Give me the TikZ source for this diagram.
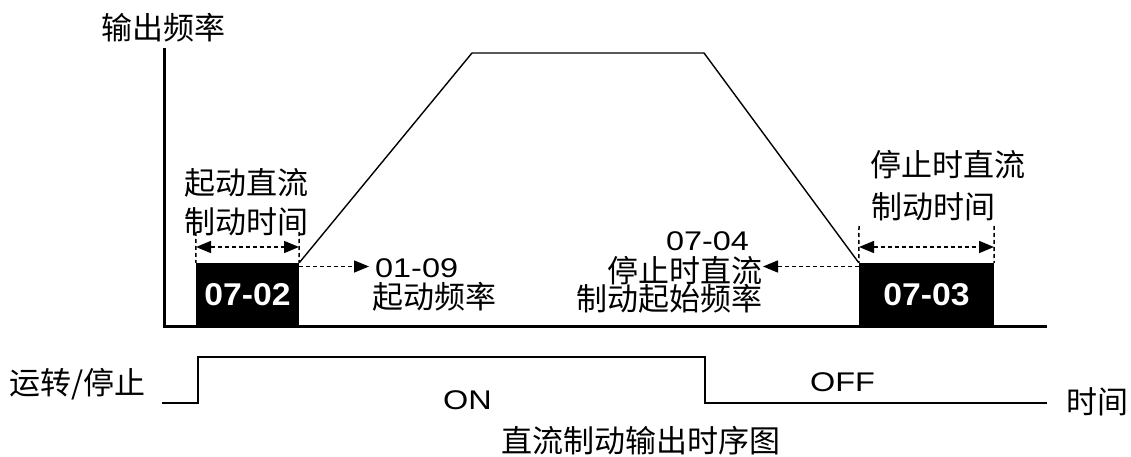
\documentclass[tikz,border=0pt]{standalone}
\usepackage{fontspec}
\setmainfont{Liberation Sans}
\newfontfamily\latfnt{Liberation Sans}[FakeStretch=1.2]
\newfontfamily\boxfnt{Liberation Sans Bold}[FakeStretch=1.07]
\newfontfamily\cjk{Noto Sans CJK SC}
\usetikzlibrary{arrows.meta}
\begin{document}
\begin{tikzpicture}[x=1pt,y=-1pt,
  cjklabel/.style={inner sep=0pt, text height=25pt, text depth=2.5pt, font=\cjk\fontsize{31}{33}\selectfont},
  latlabel/.style={inner sep=0pt, font=\latfnt\fontsize{27}{29}\selectfont},
  blackbox/.style={fill=black, draw=none, inner sep=0pt, text=white,
    font=\boxfnt\fontsize{31.5}{33}\selectfont},
  axisline/.style={line width=3pt, line cap=rect},
  curve/.style={line width=1.4pt, line join=miter},
  signal/.style={line width=1.8pt},
  dimline/.style={line width=1.5pt, dash pattern=on 4pt off 3pt},
  tri/.style={-{Triangle[length=15pt,width=12pt]}},
  tritwo/.style={{Triangle[length=15pt,width=12pt]}-{Triangle[length=15pt,width=12pt]}}
]
\useasboundingbox (0,0) rectangle (1131,457);

% axes
\coordinate (ytop) at (164,50);
\coordinate (origin) at (164,326);
\coordinate (xend) at (1045,326);
\draw[axisline] (ytop) -- (origin) -- (xend);
\node[cjklabel] (ylab) at (163.5,28) {输出频率};

% black boxes
\node[blackbox, minimum width=103pt, minimum height=63pt] (b1) at (247.5,294.5) {07-02};
\node[blackbox, minimum width=135pt, minimum height=63pt] (b2) at (926.5,294.5) {07-03};

% frequency curve
\coordinate (c1) at (472,53);
\coordinate (c2) at (704,53);
\draw[curve] (b1.north east) -- (c1) -- (c2) -- (b2.north west);

% start frequency arrow
\node[latlabel, anchor=west] (f0109) at (375,268) {01-09};
\node[cjklabel, anchor=west] (fstart) at (372,297) {起动频率};
\coordinate (a1s) at (299,266.5);
\coordinate (a1e) at (369,266.5);
\draw[dimline, tri] (a1s) -- (a1e);

% stop frequency arrow
\node[latlabel] (f0704) at (707.5,241.5) {07-04};
\node[cjklabel, anchor=east] (fstop1) at (763,271) {停止时直流};
\node[cjklabel, anchor=east] (fstop2) at (763,299) {制动起始频率};
\coordinate (a2s) at (859,266.5);
\coordinate (a2e) at (763,266.5);
\draw[dimline, tri] (a2s) -- (a2e);

% dimension 1
\coordinate (t1a) at (196,232);
\coordinate (t1b) at (299,232);
\draw[dimline] (t1a) -- (b1.north west);
\draw[dimline] (t1b) -- (b1.north east);
\coordinate (d1a) at (196,247);
\coordinate (d1b) at (299,247);
\draw[dimline, tritwo] (d1a) -- (d1b);
\node[cjklabel] (l1a) at (246,183) {起动直流};
\node[cjklabel] (l1b) at (246,222) {制动时间};

% dimension 2
\coordinate (t2a) at (859,226);
\coordinate (t2b) at (994,226);
\draw[dimline] (t2a) -- (b2.north west);
\draw[dimline] (t2b) -- (b2.north east);
\coordinate (d2a) at (859,247);
\coordinate (d2b) at (994,247);
\draw[dimline, tritwo] (d2a) -- (d2b);
\node[cjklabel] (l2a) at (947.5,165) {停止时直流};
\node[cjklabel] (l2b) at (933.5,207) {制动时间};

% run/stop signal
\coordinate (s0) at (162,403);
\coordinate (s1) at (198,403);
\coordinate (s2) at (198,357);
\coordinate (s3) at (705,357);
\coordinate (s4) at (705,403);
\coordinate (s5) at (1047,403);
\draw[signal] (s0) -- (s1) -- (s2) -- (s3) -- (s4) -- (s5);
\node[cjklabel] (runstop) at (77.5,383) {运转/停止};
\node[latlabel] (on) at (467.5,400) {ON};
\node[latlabel] (off) at (842.5,382) {OFF};
\node[cjklabel] (time) at (1097.5,402) {时间};
\node[cjklabel] (title) at (640.5,441) {直流制动输出时序图};
\end{tikzpicture}
\end{document}
